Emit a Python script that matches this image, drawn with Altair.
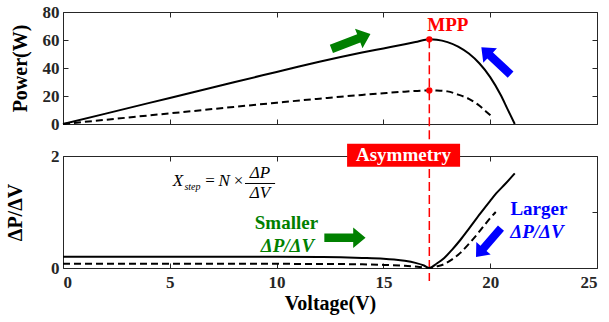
import altair as alt
import pandas as pd

# ---------------- data ----------------
# P-V curve, full irradiance (solid)
v_p_solid = [0, 2, 4, 6, 8, 10, 11, 12, 13, 14, 15, 16, 16.5, 17.15, 17.5, 18, 18.5, 19, 19.5, 20, 20.5, 20.8, 21.15]
p_solid = [0, 7.4, 14.9, 22.3, 29.8, 37.2, 40.9, 44.4, 47.8, 51.0, 54.0, 57.0, 58.6, 60.5, 60.2, 58.5, 55.3, 50.3, 43.2, 33.5, 20.5, 11.0, 0]
# P-V curve, reduced irradiance (dashed)
v_p_dashed = [0, 2, 4, 6, 8, 10, 11.28, 12, 13, 14, 15, 16, 17.15, 17.5, 18, 18.5, 19, 19.5, 19.8, 20.15]
p_dashed = [0, 3.0, 6.1, 9.1, 12.2, 15.2, 17.1, 18.1, 19.5, 20.8, 22.0, 23.1, 24.0, 23.9, 23.3, 21.0, 18.0, 13.0, 9.0, 4.3]
# dP/dV (absolute) curves
v_d_solid = [0, 5, 10, 12, 13, 14, 15, 15.5, 16, 16.5, 16.9, 17.15, 17.5, 17.85, 18.2, 18.6, 19.0, 19.55, 20.0, 20.3, 20.7, 21.15]
d_solid = [0.2, 0.2, 0.2, 0.195, 0.19, 0.18, 0.165, 0.15, 0.128, 0.092, 0.045, 0.0, 0.08, 0.18, 0.32, 0.5, 0.7, 0.98, 1.2, 1.34, 1.5, 1.69]
v_d_dashed = [0, 5, 10, 13, 14, 15, 16, 16.6, 17.15, 17.5, 17.85, 18.2, 18.6, 19.0, 19.3, 19.7, 20.0, 20.26]
d_dashed = [0.075, 0.075, 0.074, 0.07, 0.065, 0.055, 0.038, 0.022, 0.0, 0.03, 0.07, 0.15, 0.27, 0.43, 0.56, 0.75, 0.89, 1.0]

mpp_v = 17.15
mpp_p = [60.5, 24.0]

x_ticks = [0, 5, 10, 15, 20, 25]
p_ticks = [0, 20, 40, 60, 80]
d_ticks = [0, 1, 2]

# ---------------- styling ----------------
FONT = "Times New Roman, Liberation Serif, serif"
AXC = "#262626"
GREEN = "#008000"
BLUE = "#0000ff"
RED = "#ff0000"
W, H = 534, 112
ARROW = "M -1 -0.21 L 0.40 -0.21 L 0.40 -0.5 L 1 0 L 0.40 0.5 L 0.40 0.21 L -1 0.21 Z"

xs = alt.Scale(domain=[0, 25], nice=False, zero=False)
ps = alt.Scale(domain=[0, 80], nice=False)
ds = alt.Scale(domain=[0, 2], nice=False)


def axis(orient, values, labels=False, title=None, label_pad=4, title_pad=10):
    kw = dict(orient=orient, offset=-5, tickSize=5, domain=False, grid=False,
              values=values, labels=labels, tickColor=AXC, tickWidth=1)
    if labels:
        kw.update(labelFont=FONT, labelFontSize=17, labelFontWeight="bold",
                  labelColor=AXC, labelPadding=label_pad, format="d")
    if title:
        kw.update(title=title, titleFont=FONT, titleFontSize=20, titleFontWeight="bold",
                  titleColor="black", titlePadding=title_pad)
    else:
        kw.update(title=None)
    return alt.Axis(**kw)


def ann_df(**cols):
    return pd.DataFrame({k: [v] for k, v in cols.items()})


def text(v, y, label, ys, **mk):
    base = dict(font=FONT, fontSize=19, fontWeight="bold", align="center", baseline="middle")
    base.update(mk)
    return alt.Chart(ann_df(V=v, Y=y, label=label)).mark_text(**base).encode(
        x=alt.X("V:Q", scale=xs, axis=None),
        y=alt.Y("Y:Q", scale=ys, axis=None),
        text="label:N",
    )


def arrow(v, y, ang, size, color, ys):
    return alt.Chart(ann_df(V=v, Y=y)).mark_point(
        shape=ARROW, filled=True, color=color, opacity=1, strokeWidth=0
    ).encode(
        x=alt.X("V:Q", scale=xs, axis=None),
        y=alt.Y("Y:Q", scale=ys, axis=None),
        angle=alt.value(ang),
        size=alt.value(size),
    )


# ---------------- top panel: P-V ----------------
df_ps = pd.DataFrame({"V": v_p_solid, "P": p_solid})
df_pd = pd.DataFrame({"V": v_p_dashed, "P": p_dashed})

top_solid = alt.Chart(df_ps).mark_line(color="black", strokeWidth=2, interpolate="monotone").encode(
    x=alt.X("V:Q", scale=xs, axis=axis("bottom", x_ticks)),
    y=alt.Y("P:Q", scale=ps, axis=axis("left", p_ticks, labels=True, title="Power(W)", title_pad=12)),
)
top_dashed = alt.Chart(df_pd).mark_line(color="black", strokeWidth=2, strokeDash=[7, 4],
                                        interpolate="monotone").encode(
    x=alt.X("V:Q", scale=xs, axis=axis("top", x_ticks)),
    y=alt.Y("P:Q", scale=ps, axis=axis("right", p_ticks)),
)
# red dashed marker line, runs down to the top of the "Asymmetry" box
top_rule = alt.Chart(ann_df(V=mpp_v, P=mpp_p[0])).mark_rule(
    color=RED, strokeWidth=1.5, strokeDash=[9, 4]
).encode(
    x=alt.X("V:Q", scale=xs, axis=None),
    y=alt.Y("P:Q", scale=ps, axis=None),
    y2=alt.value(H + 17),
)
top_pts = alt.Chart(pd.DataFrame({"V": [mpp_v, mpp_v], "P": mpp_p})).mark_point(
    filled=True, color=RED, opacity=1, size=40
).encode(
    x=alt.X("V:Q", scale=xs, axis=None),
    y=alt.Y("P:Q", scale=ps, axis=None),
)
top = alt.layer(
    top_rule, top_solid, top_dashed, top_pts,
    text(18.02, 70.7, "MPP", ps, color=RED),
    arrow(13.48, 59.0, 339, 1750, GREEN, ps),
    arrow(20.27, 45.0, 223, 1600, BLUE, ps),
).resolve_axis(x="independent", y="independent").properties(width=W, height=H)

# ---------------- bottom panel: dP/dV ----------------
df_ds = pd.DataFrame({"V": v_d_solid, "D": d_solid})
df_dd = pd.DataFrame({"V": v_d_dashed, "D": d_dashed})

bot_solid = alt.Chart(df_ds).mark_line(color="black", strokeWidth=2, interpolate="monotone").encode(
    x=alt.X("V:Q", scale=xs, axis=axis("bottom", x_ticks, labels=True, title="Voltage(V)",
                                        label_pad=6, title_pad=3)),
    y=alt.Y("D:Q", scale=ds, axis=axis("left", d_ticks, labels=True, title="ΔP/ΔV", title_pad=25)),
)
bot_dashed = alt.Chart(df_dd).mark_line(color="black", strokeWidth=2, strokeDash=[7, 4],
                                        interpolate="monotone").encode(
    x=alt.X("V:Q", scale=xs, axis=axis("top", x_ticks)),
    y=alt.Y("D:Q", scale=ds, axis=axis("right", d_ticks)),
)
bot_rule = alt.Chart(ann_df(V=mpp_v)).mark_rule(
    color=RED, strokeWidth=1.5, strokeDash=[9, 4]
).encode(
    x=alt.X("V:Q", scale=xs, axis=None),
    y=alt.value(0),
    y2=alt.value(H + 13),
)
asym_box = alt.Chart(ann_df(V=13.30, V2=18.59, Y=2.22, Y2=1.81)).mark_rect(color=RED, opacity=1).encode(
    x=alt.X("V:Q", scale=xs, axis=None), x2="V2:Q",
    y=alt.Y("Y:Q", scale=ds, axis=None), y2="Y2:Q",
)
frac_line = alt.Chart(ann_df(V=8.52, V2=9.93, Y=1.509)).mark_rule(color="black", strokeWidth=1).encode(
    x=alt.X("V:Q", scale=xs, axis=None), x2="V2:Q",
    y=alt.Y("Y:Q", scale=ds, axis=None),
)
serif = dict(fontWeight="normal", color="black", fontSize=17)
bottom = alt.layer(
    bot_rule, bot_solid, bot_dashed, asym_box,
    text(15.94, 2.016, "Asymmetry", ds, color="white"),
    # formula  X_step = N x dP/dV
    text(5.38, 1.545, "X", ds, fontStyle="italic", **serif),
    text(6.06, 1.45, "step", ds, fontStyle="italic", font=FONT, fontSize=10,
         fontWeight="normal", color="black"),
    text(6.88, 1.545, "=", ds, **serif),
    text(7.54, 1.545, "N", ds, fontStyle="italic", **serif),
    text(8.22, 1.545, "×", ds, **serif),
    text(9.22, 1.69, "ΔP", ds, fontStyle="italic", **serif),
    frac_line,
    text(9.22, 1.335, "ΔV", ds, fontStyle="italic", **serif),
    text(10.46, 0.8125, "Smaller", ds, color=GREEN),
    text(10.51, 0.384, "ΔP/ΔV", ds, color=GREEN, fontStyle="italic"),
    text(22.28, 1.045, "Larger", ds, color=BLUE),
    text(22.19, 0.634, "ΔP/ΔV", ds, color=BLUE, fontStyle="italic"),
    arrow(13.2, 0.54, 0, 1700, GREEN, ds),
    arrow(19.92, 0.455, 131, 1450, BLUE, ds),
).resolve_axis(x="independent", y="independent").properties(width=W, height=H)

chart = alt.vconcat(top, bottom, spacing=0).properties(
    padding={"left": 5, "top": 2, "right": 3, "bottom": 4}
).configure_view(stroke=AXC, strokeWidth=1)

chart.save("out.html", embed_options={"renderer": "svg", "actions": False})
